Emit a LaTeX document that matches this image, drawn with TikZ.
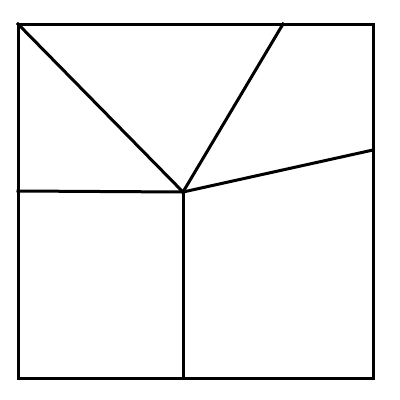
\documentclass[tikz,border=0pt]{standalone}
\begin{document}
\begin{tikzpicture}[x=1pt,y=-1pt,edge/.style={line width=3pt,line join=miter,line cap=rect}]
\useasboundingbox (0,0) rectangle (400,400);
\coordinate (TL) at (18,24);
\coordinate (TR) at (373,24);
\coordinate (BR) at (373,378);
\coordinate (BL) at (18,378);
\coordinate (C) at (183,192);
\coordinate (T) at (283,24);
\coordinate (R) at (373,150);
\coordinate (L) at (18,191);
\coordinate (B) at (183,378);
\draw[edge] (TL) -- (TR) -- (BR) -- (BL) -- cycle;
\draw[edge] (TL) -- (C);
\draw[edge] (T) -- (C);
\draw[edge] (R) -- (C);
\draw[edge] (L) -- (C);
\draw[edge] (C) -- (B);
\end{tikzpicture}
\end{document}
